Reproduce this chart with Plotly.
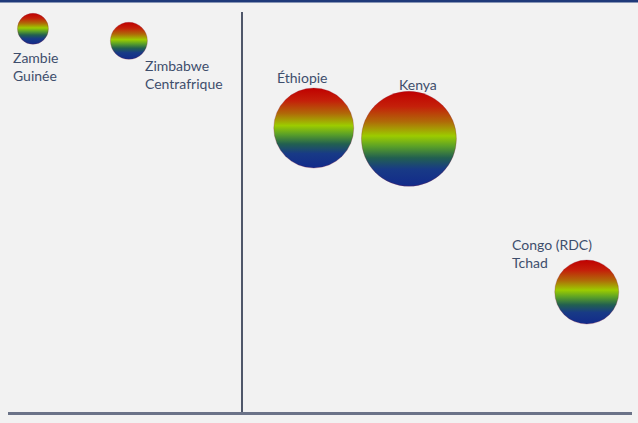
import plotly.graph_objects as go

# ---- data ----
labels = ["Zambie<br>Guinée", "Zimbabwe<br>Centrafrique", "Éthiopie", "Kenya", "Congo (RDC)<br>Tchad"]
x_vals = [-2.68, -1.45, 0.92, 2.14, 4.42]
y_vals = [9.58, 9.28, 7.10, 6.83, 3.00]
sizes = [31, 37, 80, 95, 64]

# label placement (style only)
label_style = [
    dict(xanchor="left", yanchor="top", xshift=-22, yshift=-18),
    dict(xanchor="left", yanchor="top", xshift=14, yshift=-14),
    dict(xanchor="left", yanchor="middle", xshift=-39, yshift=51),
    dict(xanchor="center", yanchor="middle", xshift=9, yshift=54),
    dict(xanchor="left", yanchor="middle", xshift=-77, yshift=39),
]

TEXT_COLOR = "#3e4e6c"
FONT = "Lato"

fig = go.Figure()
fig.add_trace(go.Scatter(
    x=x_vals, y=y_vals, mode="markers",
    marker=dict(
        size=sizes, sizemode="diameter",
        color="#c00000",
        gradient=dict(type="vertical", color="#1a2f8a"),
        line=dict(width=0.6, color="rgba(140,30,60,0.45)"),
        opacity=1,
    ),
    hoverinfo="skip", showlegend=False,
))

annotations = []
for xv, yv, lab, st in zip(x_vals, y_vals, labels, label_style):
    annotations.append(dict(
        x=xv, y=yv, xref="x", yref="y", text=lab, showarrow=False,
        align="left", font=dict(family=FONT, size=14, color=TEXT_COLOR),
        **st,
    ))

fig.update_layout(
    width=638, height=423,
    margin=dict(l=8, r=6, t=12, b=11),
    paper_bgcolor="#f2f2f2", plot_bgcolor="#f2f2f2",
    annotations=annotations,
    xaxis=dict(range=[-3, 5], showgrid=False, showticklabels=False, ticks="",
               zeroline=True, zerolinecolor="#4f576a", zerolinewidth=2.5,
               showline=True, linecolor="#6b7388", linewidth=3, mirror=False),
    yaxis=dict(range=[0, 10], showgrid=False, showticklabels=False, ticks="",
               zeroline=False, showline=False),
    shapes=[dict(type="line", xref="paper", yref="paper",
                 x0=-0.02, x1=1.02, y0=1 + 11/400, y1=1 + 11/400,
                 line=dict(color="#1f3a7a", width=3))],
)

post = """
document.body.style.margin='0';
var gd = document.getElementById('{plot_id}');
var stops = [[0,'#c00000'],[0.16,'#c4200a'],[0.32,'#b06a08'],[0.47,'#9ccc00'],
             [0.58,'#5aa028'],[0.70,'#226050'],[0.82,'#183a86'],[1,'#122a8a']];
function recolor(){
  var grads = gd.querySelectorAll('linearGradient');
  grads.forEach(function(g){
    g.setAttribute('x1','0'); g.setAttribute('y1','0');
    g.setAttribute('x2','0'); g.setAttribute('y2','1');
    while(g.firstChild){ g.removeChild(g.firstChild); }
    stops.forEach(function(s){
      var st = document.createElementNS('http://www.w3.org/2000/svg','stop');
      st.setAttribute('offset', (s[0]*100)+'%');
      st.setAttribute('stop-color', s[1]);
      st.setAttribute('stop-opacity', '1');
      g.appendChild(st);
    });
  });
}
recolor();
gd.on('plotly_afterplot', recolor);
"""

fig.write_html("out.html", post_script=post, config=dict(staticPlot=True, responsive=False))
